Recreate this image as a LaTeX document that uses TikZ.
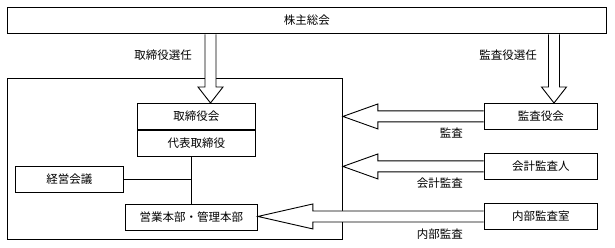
\documentclass[tikz,border=0pt]{standalone}
\usepackage{fontspec}
\newfontfamily\jp{Noto Sans CJK JP}
\usetikzlibrary{calc,backgrounds}
\tikzset{
  box/.style={draw, line width=0.9pt, inner sep=0pt, font=\jp\fontsize{11.5}{13}\selectfont, fill=white},
  lbl/.style={inner sep=0pt, font=\jp\fontsize{11.5}{13}\selectfont},
  harrow/.style={draw, fill=white, line width=0.9pt, line join=miter},
}
\newcommand\harrowdown[2]{%
  \path[fill=white] ($(#1)+(-5.5,0)$) -- ($(#2)+(-5.5,-16)$) -- ($(#2)+(-12.5,-16)$) -- (#2) -- ($(#2)+(12.5,-16)$) -- ($(#2)+(5.5,-16)$) -- ($(#1)+(5.5,0)$) -- cycle;
  \draw[harrow, fill=none] ($(#1)+(-5.5,0)$) -- ($(#2)+(-5.5,-16)$) -- ($(#2)+(-12.5,-16)$) -- (#2) -- ($(#2)+(12.5,-16)$) -- ($(#2)+(5.5,-16)$) -- ($(#1)+(5.5,0)$);}
\newcommand\harrowleft[3]{%
  \path[fill=white] ($(#1)+(0,-5.5)$) -- ($(#2)+(#3,-5.5)$) -- ($(#2)+(#3,-12.5)$) -- (#2) -- ($(#2)+(#3,12.5)$) -- ($(#2)+(#3,5.5)$) -- ($(#1)+(0,5.5)$) -- cycle;
  \draw[harrow, fill=none] ($(#1)+(0,-5.5)$) -- ($(#2)+(#3,-5.5)$) -- ($(#2)+(#3,-12.5)$) -- (#2) -- ($(#2)+(#3,12.5)$) -- ($(#2)+(#3,5.5)$) -- ($(#1)+(0,5.5)$);}
\begin{document}
\begin{tikzpicture}[x=1pt, y=-1pt]
\useasboundingbox (0,0) rectangle (615,248);
% top box
\node[box, minimum width=599pt, minimum height=26pt, anchor=north west] (top) at (7,7) {株主総会};
% company frame
\node[draw, line width=0.9pt, minimum width=335pt, minimum height=161pt, anchor=north west, inner sep=0pt] (company) at (7,78) {};
% inside
\node[box, minimum width=118pt, minimum height=26pt, anchor=north west] (board) at (137,103) {取締役会};
\node[box, minimum width=118pt, minimum height=26pt, anchor=north] (rep) at (board.south) {代表取締役};
\node[box, minimum width=108pt, minimum height=26pt, anchor=north west] (keiei) at (15,166) {経営会議};
\node[box, minimum width=132pt, minimum height=26pt, anchor=north west] (eigyo) at (125,204) {営業本部・管理本部};
\coordinate (jn) at (191,179);
\draw[line width=0.9pt] (rep.south -| jn) -- (eigyo.north -| jn);
\draw[line width=0.9pt] (keiei.east) -- (keiei.east -| jn);
% right boxes
\node[box, minimum width=113pt, minimum height=26pt, anchor=north west] (kansayaku) at (484,103) {監査役会};
\node[box, minimum width=113pt, minimum height=26pt, anchor=north west] (kaikei) at (484,153) {会計監査人};
\node[box, minimum width=113pt, minimum height=26pt, anchor=north west] (naibu) at (484,203) {内部監査室};
% down arrows
\coordinate (d1t) at (210.5,103);
\coordinate (d1s) at ($(d1t |- top.south)+(0,0.45)$);
\harrowdown{d1s}{d1t}
\coordinate (d2t) at (kansayaku.north -| 554,0);
\coordinate (d2s) at ($(d2t |- top.south)+(0,0.45)$);
\harrowdown{d2s}{d2t}
% left arrows
\coordinate (l1s) at ($(kansayaku.west)+(-0.45,0)$);
\coordinate (l1t) at (kansayaku.west -| company.east);
\harrowleft{l1s}{l1t}{35}
\coordinate (l2s) at ($(kaikei.west)+(-0.45,0)$);
\coordinate (l2t) at (kaikei.west -| company.east);
\harrowleft{l2s}{l2t}{35}
\coordinate (l3s) at ($(naibu.west)+(-0.45,0)$);
\coordinate (l3t) at (naibu.west -| eigyo.east);
\harrowleft{l3s}{l3t}{55}
% labels
\node[lbl] (t1) at (163,55) {取締役選任};
\node[lbl] (t2) at (508,55) {監査役選任};
\node[lbl, anchor=east] (t3) at (463,133) {監査};
\node[lbl, anchor=east] (t4) at (463,183) {会計監査};
\node[lbl, anchor=east] (t5) at (463,234) {内部監査};
\end{tikzpicture}
\end{document}
